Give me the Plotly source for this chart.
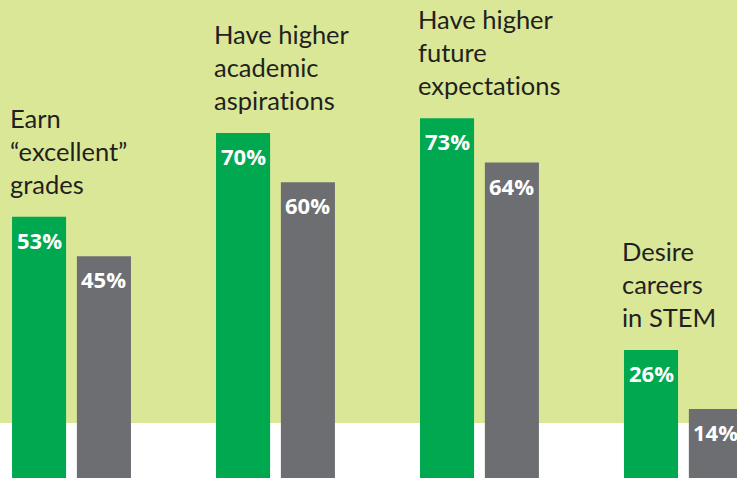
import plotly.graph_objects as go

categories = ["Earn<br>“excellent”<br>grades",
              "Have higher<br>academic<br>aspirations",
              "Have higher<br>future<br>expectations",
              "Desire<br>careers<br>in STEM"]
series_a = [53, 70, 73, 26]
series_b = [45, 60, 64, 14]
names = ["Girl Scouts", "Non-Girl Scouts"]

GREEN = "#00a84f"
GRAY = "#6d6e72"
BG = "#dae797"

x = list(range(len(categories)))
W = 0.265
OFF_A = -0.289
OFF_B = 0.029

fig = go.Figure()
fig.add_trace(go.Bar(x=x, y=series_a, name=names[0], marker_color=GREEN,
                     width=W, offset=OFF_A, marker_line_width=0, hoverinfo="skip"))
fig.add_trace(go.Bar(x=x, y=series_b, name=names[1], marker_color=GRAY,
                     width=W, offset=OFF_B, marker_line_width=0, hoverinfo="skip"))

ann = []
for i, (c, a, b) in enumerate(zip(categories, series_a, series_b)):
    label = c.replace("ti", "t\u200ci")  # avoid 'ti' ligature
    ann.append(dict(x=i + OFF_A, y=a, xref="x", yref="y", text=label, showarrow=False,
                    xanchor="left", yanchor="bottom", align="left", yshift=16, xshift=-4,
                    font=dict(family="Lato", size=25.5, color="#231f20")))
    for v, off in ((a, OFF_A), (b, OFF_B)):
        ann.append(dict(x=i + off + W / 2, y=v, xref="x", yref="y", text=f"{v}%",
                        showarrow=False, xanchor="center", yanchor="middle", yshift=-23,
                        font=dict(family="Open Sans", size=22, color="white", weight="bold")))

fig.update_layout(
    width=737, height=478,
    margin=dict(l=0, r=0, t=0, b=0),
    paper_bgcolor="white", plot_bgcolor="rgba(0,0,0,0)",
    barmode="overlay", showlegend=False,
    xaxis=dict(range=[-0.348, 3.265], visible=False, fixedrange=True),
    yaxis=dict(range=[0, 97], visible=False, fixedrange=True),
    annotations=ann,
    shapes=[dict(type="rect", xref="paper", yref="paper", x0=0, x1=1, y0=0.115, y1=1,
                 fillcolor=BG, line_width=0, layer="below")],
)
fig.write_html("out.html", config={"displayModeBar": False, "staticPlot": True},
               post_script="document.body.style.margin='0';document.body.style.overflow='hidden';")
